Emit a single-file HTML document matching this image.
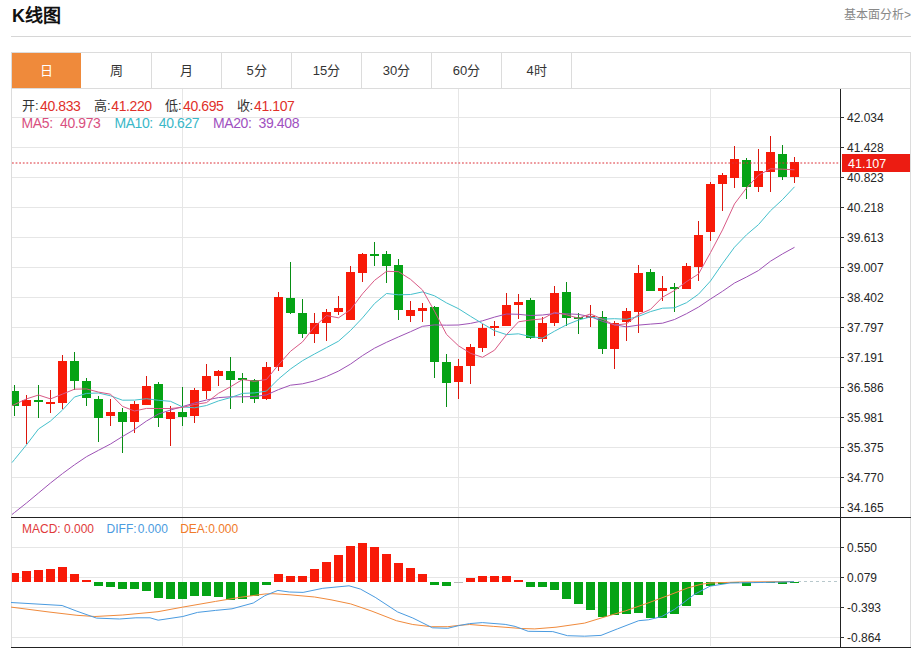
<!DOCTYPE html>
<html lang="zh-CN"><head><meta charset="utf-8">
<style>
*{margin:0;padding:0;box-sizing:border-box}
html,body{width:915px;height:648px;background:#fff;overflow:hidden;font-family:"Liberation Sans",sans-serif;color:#333}
.abs{position:absolute;white-space:nowrap}
#title{left:12px;top:5px;font-size:18px;font-weight:bold;color:#111;line-height:22px}
#more{right:4px;top:6px;font-size:12px;color:#888;line-height:18px}
#hline{left:11px;top:36px;width:900px;height:1px;background:#d6d6d6}
#tabs{left:11px;top:52px;width:900px;height:37px;border:1px solid #dcdcdc;border-bottom:1px solid #dcdcdc}
.tab{position:absolute;top:0;height:35px;width:70px;border-right:1px solid #dcdcdc;text-align:center;line-height:35px;font-size:13px;color:#333}
.tab.on{background:#ef8a3b;color:#fff;border-right:none;width:69px}
#info1{left:22px;top:97.5px;font-size:13px;line-height:16px}
#info2{left:22px;top:115px;font-size:13px;line-height:16px}
.r{color:#e0302a}
svg{position:absolute;left:0;top:0}
svg text{font-family:"Liberation Sans",sans-serif;font-size:12px;fill:#262626}
.t13{font-size:13px;line-height:16px;color:#333}
.v14{font-size:14px;line-height:16px;letter-spacing:-0.4px}
.m12{font-size:12px;line-height:16px;word-spacing:0}
</style></head><body>
<div class="abs" id="title">K线图</div>
<div class="abs" id="more">基本面分析&gt;</div>
<div class="abs" id="hline"></div>
<div class="abs" id="tabs">
<div class="tab on" style="left:0">日</div>
<div class="tab" style="left:70px">周</div>
<div class="tab" style="left:140px">月</div>
<div class="tab" style="left:210px">5分</div>
<div class="tab" style="left:280px">15分</div>
<div class="tab" style="left:350px">30分</div>
<div class="tab" style="left:420px">60分</div>
<div class="tab" style="left:490px">4时</div>
</div>
<svg width="915" height="648" viewBox="0 0 915 648" shape-rendering="crispEdges">
<rect x="11" y="88" width="1" height="559" fill="#dcdcdc"/>
<rect x="910" y="88" width="1" height="559" fill="#dcdcdc"/>
<g shape-rendering="crispEdges">
<line x1="12" y1="117.5" x2="840" y2="117.5" stroke="#e6e6e6" stroke-width="1"/>
<line x1="12" y1="147.5" x2="840" y2="147.5" stroke="#e6e6e6" stroke-width="1"/>
<line x1="12" y1="177.5" x2="840" y2="177.5" stroke="#e6e6e6" stroke-width="1"/>
<line x1="12" y1="207.5" x2="840" y2="207.5" stroke="#e6e6e6" stroke-width="1"/>
<line x1="12" y1="237.5" x2="840" y2="237.5" stroke="#e6e6e6" stroke-width="1"/>
<line x1="12" y1="267.5" x2="840" y2="267.5" stroke="#e6e6e6" stroke-width="1"/>
<line x1="12" y1="297.5" x2="840" y2="297.5" stroke="#e6e6e6" stroke-width="1"/>
<line x1="12" y1="327.5" x2="840" y2="327.5" stroke="#e6e6e6" stroke-width="1"/>
<line x1="12" y1="357.5" x2="840" y2="357.5" stroke="#e6e6e6" stroke-width="1"/>
<line x1="12" y1="387.5" x2="840" y2="387.5" stroke="#e6e6e6" stroke-width="1"/>
<line x1="12" y1="417.5" x2="840" y2="417.5" stroke="#e6e6e6" stroke-width="1"/>
<line x1="12" y1="447.5" x2="840" y2="447.5" stroke="#e6e6e6" stroke-width="1"/>
<line x1="12" y1="477.5" x2="840" y2="477.5" stroke="#e6e6e6" stroke-width="1"/>
<line x1="12" y1="507.5" x2="840" y2="507.5" stroke="#e6e6e6" stroke-width="1"/>
<line x1="182.5" y1="89" x2="182.5" y2="646" stroke="#e6e6e6" stroke-width="1"/>
<line x1="458.5" y1="89" x2="458.5" y2="646" stroke="#e6e6e6" stroke-width="1"/>
<line x1="710.5" y1="89" x2="710.5" y2="646" stroke="#e6e6e6" stroke-width="1"/>
<line x1="12" y1="547.5" x2="840" y2="547.5" stroke="#e6e6e6" stroke-width="1"/>
<line x1="12" y1="577.5" x2="840" y2="577.5" stroke="#e6e6e6" stroke-width="1"/>
<line x1="12" y1="607.5" x2="840" y2="607.5" stroke="#e6e6e6" stroke-width="1"/>
<line x1="12" y1="637.5" x2="840" y2="637.5" stroke="#e6e6e6" stroke-width="1"/>
<rect x="14.0" y="385" width="1" height="31" fill="#078d14"/>
<rect x="12.0" y="391" width="7.0" height="15" fill="#05a315"/>
<rect x="26.0" y="395" width="1" height="49" fill="#dc160c"/>
<rect x="22.0" y="400" width="9.0" height="6" fill="#f81a08"/>
<rect x="38.0" y="385" width="1" height="33" fill="#078d14"/>
<rect x="34.0" y="400" width="9.0" height="2" fill="#05a315"/>
<rect x="50.0" y="390" width="1" height="23" fill="#dc160c"/>
<rect x="46.0" y="402" width="9.0" height="2" fill="#f81a08"/>
<rect x="62.0" y="355" width="1" height="54" fill="#dc160c"/>
<rect x="58.0" y="361" width="9.0" height="42" fill="#f81a08"/>
<rect x="74.0" y="352" width="1" height="38" fill="#078d14"/>
<rect x="70.0" y="361" width="9.0" height="20" fill="#05a315"/>
<rect x="86.0" y="378" width="1" height="28" fill="#078d14"/>
<rect x="82.0" y="381" width="9.0" height="17" fill="#05a315"/>
<rect x="98.0" y="396" width="1" height="46" fill="#078d14"/>
<rect x="94.0" y="399" width="9.0" height="19" fill="#05a315"/>
<rect x="110.0" y="399" width="1" height="27" fill="#dc160c"/>
<rect x="106.0" y="412" width="9.0" height="4" fill="#f81a08"/>
<rect x="122.0" y="408" width="1" height="45" fill="#078d14"/>
<rect x="118.0" y="412" width="9.0" height="10" fill="#05a315"/>
<rect x="134.0" y="401" width="1" height="32" fill="#dc160c"/>
<rect x="130.0" y="404" width="9.0" height="18" fill="#f81a08"/>
<rect x="146.0" y="376" width="1" height="29" fill="#dc160c"/>
<rect x="142.0" y="386" width="9.0" height="19" fill="#f81a08"/>
<rect x="158.0" y="382" width="1" height="45" fill="#078d14"/>
<rect x="154.0" y="384" width="9.0" height="34" fill="#05a315"/>
<rect x="170.0" y="406" width="1" height="40" fill="#dc160c"/>
<rect x="166.0" y="412" width="9.0" height="7" fill="#f81a08"/>
<rect x="182.0" y="387" width="1" height="39" fill="#078d14"/>
<rect x="178.0" y="412" width="9.0" height="5" fill="#05a315"/>
<rect x="194.0" y="388" width="1" height="35" fill="#dc160c"/>
<rect x="190.0" y="390" width="9.0" height="26" fill="#f81a08"/>
<rect x="206.0" y="364" width="1" height="35" fill="#dc160c"/>
<rect x="202.0" y="376" width="9.0" height="15" fill="#f81a08"/>
<rect x="218.0" y="370" width="1" height="16" fill="#dc160c"/>
<rect x="214.0" y="371" width="9.0" height="5" fill="#f81a08"/>
<rect x="230.0" y="357" width="1" height="52" fill="#078d14"/>
<rect x="226.0" y="371" width="9.0" height="9" fill="#05a315"/>
<rect x="242.0" y="373" width="1" height="30" fill="#078d14"/>
<rect x="238.0" y="378" width="9.0" height="2" fill="#05a315"/>
<rect x="254.0" y="379" width="1" height="24" fill="#078d14"/>
<rect x="250.0" y="380" width="9.0" height="19" fill="#05a315"/>
<rect x="266.0" y="362" width="1" height="38" fill="#dc160c"/>
<rect x="262.0" y="367" width="9.0" height="32" fill="#f81a08"/>
<rect x="278.0" y="292" width="1" height="79" fill="#dc160c"/>
<rect x="274.0" y="297" width="9.0" height="70" fill="#f81a08"/>
<rect x="290.0" y="262" width="1" height="52" fill="#078d14"/>
<rect x="286.0" y="298" width="9.0" height="15" fill="#05a315"/>
<rect x="302.0" y="299" width="1" height="39" fill="#078d14"/>
<rect x="298.0" y="313" width="9.0" height="21" fill="#05a315"/>
<rect x="314.0" y="313" width="1" height="30" fill="#dc160c"/>
<rect x="310.0" y="323" width="9.0" height="11" fill="#f81a08"/>
<rect x="326.0" y="309" width="1" height="32" fill="#dc160c"/>
<rect x="322.0" y="312" width="9.0" height="11" fill="#f81a08"/>
<rect x="338.0" y="296" width="1" height="19" fill="#dc160c"/>
<rect x="334.0" y="308" width="9.0" height="4" fill="#f81a08"/>
<rect x="350.0" y="266" width="1" height="54" fill="#dc160c"/>
<rect x="346.0" y="272" width="9.0" height="48" fill="#f81a08"/>
<rect x="362.0" y="253" width="1" height="29" fill="#dc160c"/>
<rect x="358.0" y="254" width="9.0" height="19" fill="#f81a08"/>
<rect x="374.0" y="242" width="1" height="24" fill="#078d14"/>
<rect x="370.0" y="254" width="9.0" height="2" fill="#05a315"/>
<rect x="386.0" y="251" width="1" height="32" fill="#078d14"/>
<rect x="382.0" y="254" width="9.0" height="12" fill="#05a315"/>
<rect x="398.0" y="259" width="1" height="61" fill="#078d14"/>
<rect x="394.0" y="265" width="9.0" height="45" fill="#05a315"/>
<rect x="410.0" y="301" width="1" height="21" fill="#dc160c"/>
<rect x="406.0" y="310" width="9.0" height="6" fill="#f81a08"/>
<rect x="422.0" y="303" width="1" height="19" fill="#dc160c"/>
<rect x="418.0" y="308" width="9.0" height="3" fill="#f81a08"/>
<rect x="434.0" y="306" width="1" height="72" fill="#078d14"/>
<rect x="430.0" y="307" width="9.0" height="55" fill="#05a315"/>
<rect x="446.0" y="354" width="1" height="53" fill="#078d14"/>
<rect x="442.0" y="362" width="9.0" height="21" fill="#05a315"/>
<rect x="458.0" y="359" width="1" height="40" fill="#dc160c"/>
<rect x="454.0" y="366" width="9.0" height="16" fill="#f81a08"/>
<rect x="470.0" y="344" width="1" height="40" fill="#dc160c"/>
<rect x="466.0" y="347" width="9.0" height="19" fill="#f81a08"/>
<rect x="482.0" y="324" width="1" height="28" fill="#dc160c"/>
<rect x="478.0" y="328" width="9.0" height="20" fill="#f81a08"/>
<rect x="494.0" y="321" width="1" height="15" fill="#dc160c"/>
<rect x="490.0" y="326" width="9.0" height="2" fill="#f81a08"/>
<rect x="506.0" y="293" width="1" height="33" fill="#dc160c"/>
<rect x="502.0" y="305" width="9.0" height="21" fill="#f81a08"/>
<rect x="518.0" y="294" width="1" height="25" fill="#dc160c"/>
<rect x="514.0" y="302" width="9.0" height="3" fill="#f81a08"/>
<rect x="530.0" y="298" width="1" height="41" fill="#078d14"/>
<rect x="526.0" y="300" width="9.0" height="38" fill="#05a315"/>
<rect x="542.0" y="317" width="1" height="25" fill="#dc160c"/>
<rect x="538.0" y="323" width="9.0" height="16" fill="#f81a08"/>
<rect x="554.0" y="286" width="1" height="40" fill="#dc160c"/>
<rect x="550.0" y="293" width="9.0" height="30" fill="#f81a08"/>
<rect x="566.0" y="282" width="1" height="44" fill="#078d14"/>
<rect x="562.0" y="292" width="9.0" height="26" fill="#05a315"/>
<rect x="578.0" y="313" width="1" height="21" fill="#078d14"/>
<rect x="574.0" y="317" width="9.0" height="2" fill="#05a315"/>
<rect x="590.0" y="305" width="1" height="22" fill="#dc160c"/>
<rect x="586.0" y="316" width="9.0" height="2" fill="#f81a08"/>
<rect x="602.0" y="311" width="1" height="43" fill="#078d14"/>
<rect x="598.0" y="317" width="9.0" height="32" fill="#05a315"/>
<rect x="614.0" y="321" width="1" height="48" fill="#dc160c"/>
<rect x="610.0" y="323" width="9.0" height="26" fill="#f81a08"/>
<rect x="626.0" y="308" width="1" height="33" fill="#dc160c"/>
<rect x="622.0" y="311" width="9.0" height="11" fill="#f81a08"/>
<rect x="638.0" y="265" width="1" height="68" fill="#dc160c"/>
<rect x="634.0" y="273" width="9.0" height="39" fill="#f81a08"/>
<rect x="650.0" y="269" width="1" height="22" fill="#078d14"/>
<rect x="646.0" y="272" width="9.0" height="19" fill="#05a315"/>
<rect x="662.0" y="276" width="1" height="25" fill="#dc160c"/>
<rect x="658.0" y="288" width="9.0" height="3" fill="#f81a08"/>
<rect x="674.0" y="283" width="1" height="29" fill="#078d14"/>
<rect x="670.0" y="287" width="9.0" height="2" fill="#05a315"/>
<rect x="686.0" y="263" width="1" height="26" fill="#dc160c"/>
<rect x="682.0" y="266" width="9.0" height="23" fill="#f81a08"/>
<rect x="698.0" y="221" width="1" height="60" fill="#dc160c"/>
<rect x="694.0" y="235" width="9.0" height="32" fill="#f81a08"/>
<rect x="710.0" y="182" width="1" height="59" fill="#dc160c"/>
<rect x="706.0" y="184" width="9.0" height="48" fill="#f81a08"/>
<rect x="722.0" y="173" width="1" height="38" fill="#dc160c"/>
<rect x="718.0" y="175" width="9.0" height="9" fill="#f81a08"/>
<rect x="734.0" y="146" width="1" height="42" fill="#dc160c"/>
<rect x="730.0" y="159" width="9.0" height="19" fill="#f81a08"/>
<rect x="746.0" y="158" width="1" height="41" fill="#078d14"/>
<rect x="742.0" y="160" width="9.0" height="27" fill="#05a315"/>
<rect x="758.0" y="149" width="1" height="43" fill="#dc160c"/>
<rect x="754.0" y="171" width="9.0" height="16" fill="#f81a08"/>
<rect x="770.0" y="136" width="1" height="56" fill="#dc160c"/>
<rect x="766.0" y="152" width="9.0" height="20" fill="#f81a08"/>
<rect x="782.0" y="145" width="1" height="35" fill="#078d14"/>
<rect x="778.0" y="154" width="9.0" height="23" fill="#05a315"/>
<rect x="794.0" y="157" width="1" height="26" fill="#dc160c"/>
<rect x="790.0" y="162" width="9.0" height="15" fill="#f81a08"/>
<polyline points="12.0,514.5 14.5,512.5 26.5,503.0 38.5,493.0 50.5,483.0 62.5,473.6 74.5,464.8 86.5,456.7 98.5,450.3 110.5,444.0 122.5,436.5 134.5,429.5 146.5,421.0 158.5,414.0 170.5,410.0 182.5,406.6 194.5,403.0 206.5,400.0 218.5,397.6 230.5,396.8 242.5,396.8 254.5,396.5 266.5,394.9 278.5,389.6 290.5,385.2 302.5,383.8 314.5,380.9 326.5,376.5 338.5,371.1 350.5,364.1 362.5,355.6 374.5,348.2 386.5,342.3 398.5,336.9 410.5,331.7 422.5,326.3 434.5,324.9 446.5,325.2 458.5,325.0 470.5,323.4 482.5,320.8 494.5,317.1 506.5,314.0 518.5,314.3 530.5,315.5 542.5,315.0 554.5,313.5 566.5,313.8 578.5,314.4 590.5,316.6 602.5,321.4 614.5,324.7 626.5,326.9 638.5,325.1 650.5,324.1 662.5,323.2 674.5,319.5 686.5,313.7 698.5,307.1 710.5,299.0 722.5,291.3 734.5,283.0 746.5,277.0 758.5,270.5 770.5,261.2 782.5,253.9 794.5,247.3" fill="none" shape-rendering="geometricPrecision" stroke-linejoin="round" stroke="#9d52b5" stroke-width="1"/>
<polyline points="12.0,462.6 14.5,459.5 26.5,444.8 38.5,429.0 50.5,421.0 62.5,410.0 74.5,397.0 86.5,393.4 98.5,393.0 110.5,395.8 122.5,400.2 134.5,400.1 146.5,398.7 158.5,400.3 170.5,401.3 182.5,406.9 194.5,407.8 206.5,405.5 218.5,400.9 230.5,397.6 242.5,393.4 254.5,392.9 266.5,391.1 278.5,379.0 290.5,369.0 302.5,360.7 314.5,354.0 326.5,347.6 338.5,341.2 350.5,330.5 362.5,317.9 374.5,303.6 386.5,293.5 398.5,294.8 410.5,294.5 422.5,291.9 434.5,295.8 446.5,302.9 458.5,308.7 470.5,316.3 482.5,323.6 494.5,330.7 506.5,334.6 518.5,333.8 530.5,336.6 542.5,338.1 554.5,331.2 566.5,324.8 578.5,320.0 590.5,316.9 602.5,319.1 614.5,318.7 626.5,319.3 638.5,316.4 650.5,311.6 662.5,308.2 674.5,307.8 686.5,302.7 698.5,294.2 710.5,281.0 722.5,263.6 734.5,247.2 746.5,234.8 758.5,224.6 770.5,210.7 782.5,199.6 794.5,186.8" fill="none" shape-rendering="geometricPrecision" stroke-linejoin="round" stroke="#45c0cc" stroke-width="1"/>
<polyline points="12.0,405.7 14.5,404.5 26.5,398.9 38.5,395.0 50.5,398.9 62.5,394.1 74.5,389.2 86.5,388.9 98.5,392.1 110.5,394.2 122.5,406.4 134.5,411.0 146.5,408.4 158.5,408.5 170.5,408.5 182.5,407.4 194.5,404.5 206.5,402.6 218.5,393.3 230.5,386.8 242.5,379.5 254.5,381.3 266.5,379.5 278.5,364.7 290.5,351.3 302.5,341.9 314.5,326.8 326.5,315.6 338.5,317.8 350.5,309.7 362.5,293.8 374.5,280.4 386.5,271.3 398.5,271.7 410.5,279.3 422.5,290.0 434.5,311.2 446.5,334.4 458.5,345.8 470.5,353.3 482.5,357.3 494.5,350.2 506.5,334.7 518.5,321.8 530.5,320.0 542.5,318.9 554.5,312.3 566.5,314.8 578.5,318.2 590.5,313.9 602.5,319.2 614.5,325.1 626.5,323.8 638.5,314.5 650.5,309.4 662.5,297.2 674.5,290.5 686.5,281.6 698.5,274.0 710.5,252.6 722.5,229.9 734.5,203.9 746.5,188.0 758.5,175.2 770.5,168.8 782.5,169.2 794.5,169.8" fill="none" shape-rendering="geometricPrecision" stroke-linejoin="round" stroke="#d95a86" stroke-width="1"/>
<line x1="12" y1="163" x2="840" y2="163" stroke="#dc3038" stroke-width="1" stroke-dasharray="1.8,1.8" shape-rendering="geometricPrecision"/>
<rect x="12.0" y="573" width="7.0" height="9" fill="#f81a08"/>
<rect x="22.0" y="571" width="9.0" height="11" fill="#f81a08"/>
<rect x="34.0" y="570" width="9.0" height="12" fill="#f81a08"/>
<rect x="46.0" y="569" width="9.0" height="13" fill="#f81a08"/>
<rect x="58.0" y="567" width="9.0" height="15" fill="#f81a08"/>
<rect x="70.0" y="574" width="9.0" height="8" fill="#f81a08"/>
<rect x="82.0" y="580" width="9.0" height="2" fill="#f81a08"/>
<rect x="94.0" y="582" width="9.0" height="4" fill="#05a315"/>
<rect x="106.0" y="582" width="9.0" height="5" fill="#05a315"/>
<rect x="118.0" y="582" width="9.0" height="7" fill="#05a315"/>
<rect x="130.0" y="582" width="9.0" height="7" fill="#05a315"/>
<rect x="142.0" y="582" width="9.0" height="9" fill="#05a315"/>
<rect x="154.0" y="582" width="9.0" height="16" fill="#05a315"/>
<rect x="166.0" y="582" width="9.0" height="17" fill="#05a315"/>
<rect x="178.0" y="582" width="9.0" height="17" fill="#05a315"/>
<rect x="190.0" y="582" width="9.0" height="14" fill="#05a315"/>
<rect x="202.0" y="582" width="9.0" height="14" fill="#05a315"/>
<rect x="214.0" y="582" width="9.0" height="15" fill="#05a315"/>
<rect x="226.0" y="582" width="9.0" height="18" fill="#05a315"/>
<rect x="238.0" y="582" width="9.0" height="17" fill="#05a315"/>
<rect x="250.0" y="582" width="9.0" height="14" fill="#05a315"/>
<rect x="262.0" y="582" width="9.0" height="3" fill="#05a315"/>
<rect x="274.0" y="574" width="9.0" height="8" fill="#f81a08"/>
<rect x="286.0" y="576" width="9.0" height="6" fill="#f81a08"/>
<rect x="298.0" y="576" width="9.0" height="6" fill="#f81a08"/>
<rect x="310.0" y="569" width="9.0" height="13" fill="#f81a08"/>
<rect x="322.0" y="562" width="9.0" height="20" fill="#f81a08"/>
<rect x="334.0" y="555" width="9.0" height="27" fill="#f81a08"/>
<rect x="346.0" y="546" width="9.0" height="36" fill="#f81a08"/>
<rect x="358.0" y="543" width="9.0" height="39" fill="#f81a08"/>
<rect x="370.0" y="547" width="9.0" height="35" fill="#f81a08"/>
<rect x="382.0" y="554" width="9.0" height="28" fill="#f81a08"/>
<rect x="394.0" y="563" width="9.0" height="19" fill="#f81a08"/>
<rect x="406.0" y="568" width="9.0" height="14" fill="#f81a08"/>
<rect x="418.0" y="574" width="9.0" height="8" fill="#f81a08"/>
<rect x="430.0" y="582" width="9.0" height="3" fill="#05a315"/>
<rect x="442.0" y="582" width="9.0" height="4" fill="#05a315"/>
<rect x="454.0" y="581.5" width="9.0" height="1" fill="#bbb"/>
<rect x="466.0" y="578" width="9.0" height="4" fill="#f81a08"/>
<rect x="478.0" y="576" width="9.0" height="6" fill="#f81a08"/>
<rect x="490.0" y="576" width="9.0" height="6" fill="#f81a08"/>
<rect x="502.0" y="576" width="9.0" height="6" fill="#f81a08"/>
<rect x="514.0" y="580" width="9.0" height="2" fill="#f81a08"/>
<rect x="526.0" y="582" width="9.0" height="5" fill="#05a315"/>
<rect x="538.0" y="582" width="9.0" height="5" fill="#05a315"/>
<rect x="550.0" y="582" width="9.0" height="8" fill="#05a315"/>
<rect x="562.0" y="582" width="9.0" height="17" fill="#05a315"/>
<rect x="574.0" y="582" width="9.0" height="22" fill="#05a315"/>
<rect x="586.0" y="582" width="9.0" height="28" fill="#05a315"/>
<rect x="598.0" y="582" width="9.0" height="35" fill="#05a315"/>
<rect x="610.0" y="582" width="9.0" height="33" fill="#05a315"/>
<rect x="622.0" y="582" width="9.0" height="32" fill="#05a315"/>
<rect x="634.0" y="582" width="9.0" height="31" fill="#05a315"/>
<rect x="646.0" y="582" width="9.0" height="36" fill="#05a315"/>
<rect x="658.0" y="582" width="9.0" height="36" fill="#05a315"/>
<rect x="670.0" y="582" width="9.0" height="32" fill="#05a315"/>
<rect x="682.0" y="582" width="9.0" height="24" fill="#05a315"/>
<rect x="694.0" y="582" width="9.0" height="13" fill="#05a315"/>
<rect x="706.0" y="582" width="9.0" height="4" fill="#05a315"/>
<rect x="718.0" y="582" width="9.0" height="2" fill="#05a315"/>
<rect x="730.0" y="582" width="9.0" height="1" fill="#05a315"/>
<rect x="742.0" y="582" width="9.0" height="4" fill="#05a315"/>
<rect x="754.0" y="582" width="9.0" height="1" fill="#05a315"/>
<rect x="766.0" y="582" width="9.0" height="1" fill="#05a315"/>
<rect x="778.0" y="582" width="9.0" height="2" fill="#05a315"/>
<rect x="790.0" y="582" width="9.0" height="1" fill="#05a315"/>
<polyline points="11.0,607.1 49.0,612.0 76.9,615.3 94.9,616.5 122.8,615.0 158.0,611.7 182.8,607.1 215.6,601.4 240.2,597.3 264.8,594.0 273.0,593.7 290.0,594.8 314.6,597.0 331.0,599.8 350.7,603.9 372.0,611.2 396.4,620.7 412.8,624.5 431.4,626.7 447.8,626.7 458.7,625.4 469.6,624.5 493.8,626.4 521.6,628.5 534.8,628.9 556.0,627.2 584.6,623.1 605.9,616.6 625.6,610.8 646.9,603.4 666.6,596.1 687.9,587.9 701.0,584.3 710.0,583.0 740.0,582.0 794.0,581.5" fill="none" shape-rendering="geometricPrecision" stroke-linejoin="round" stroke="#f08a3c" stroke-width="1"/>
<polyline points="11.0,602.5 62.1,605.5 76.9,611.2 96.5,618.1 119.5,619.0 135.9,617.8 150.0,617.8 158.2,620.2 182.8,616.5 197.5,612.4 215.6,610.4 232.0,608.8 253.3,603.0 264.8,595.7 277.9,590.4 289.3,592.0 303.1,592.4 322.8,588.3 349.0,585.8 360.5,589.1 375.2,597.3 397.5,611.9 412.8,618.0 432.5,627.8 447.8,628.3 458.7,625.6 469.6,623.6 482.3,622.6 505.2,624.4 515.1,626.4 528.2,631.3 552.8,631.6 567.5,635.7 584.6,636.2 601.0,635.4 617.4,628.9 638.7,620.7 648.5,619.8 661.6,616.6 674.8,609.2 694.4,594.4 710.0,586.2 730.0,583.0 760.0,582.5 794.0,581.7" fill="none" shape-rendering="geometricPrecision" stroke-linejoin="round" stroke="#4a9be0" stroke-width="1"/>
<line x1="798" y1="581.5" x2="840" y2="581.5" stroke="#b8c8cc" stroke-width="1" stroke-dasharray="3,3"/>
</g>
<rect x="840" y="89" width="1" height="558" fill="#222"/>
<rect x="11" y="517" width="900" height="1" fill="#222"/>
<rect x="11" y="647" width="900" height="1" fill="#222"/>
<line x1="840" y1="117.5" x2="844" y2="117.5" stroke="#333" stroke-width="1"/>
<text x="847" y="121.8">42.034</text>
<line x1="840" y1="147.5" x2="844" y2="147.5" stroke="#333" stroke-width="1"/>
<text x="847" y="151.8">41.428</text>
<line x1="840" y1="177.5" x2="844" y2="177.5" stroke="#333" stroke-width="1"/>
<text x="847" y="181.8">40.823</text>
<line x1="840" y1="207.5" x2="844" y2="207.5" stroke="#333" stroke-width="1"/>
<text x="847" y="211.8">40.218</text>
<line x1="840" y1="237.5" x2="844" y2="237.5" stroke="#333" stroke-width="1"/>
<text x="847" y="241.8">39.613</text>
<line x1="840" y1="267.5" x2="844" y2="267.5" stroke="#333" stroke-width="1"/>
<text x="847" y="271.8">39.007</text>
<line x1="840" y1="297.5" x2="844" y2="297.5" stroke="#333" stroke-width="1"/>
<text x="847" y="301.8">38.402</text>
<line x1="840" y1="327.5" x2="844" y2="327.5" stroke="#333" stroke-width="1"/>
<text x="847" y="331.8">37.797</text>
<line x1="840" y1="357.5" x2="844" y2="357.5" stroke="#333" stroke-width="1"/>
<text x="847" y="361.8">37.191</text>
<line x1="840" y1="387.5" x2="844" y2="387.5" stroke="#333" stroke-width="1"/>
<text x="847" y="391.8">36.586</text>
<line x1="840" y1="417.5" x2="844" y2="417.5" stroke="#333" stroke-width="1"/>
<text x="847" y="421.8">35.981</text>
<line x1="840" y1="447.5" x2="844" y2="447.5" stroke="#333" stroke-width="1"/>
<text x="847" y="451.8">35.375</text>
<line x1="840" y1="477.5" x2="844" y2="477.5" stroke="#333" stroke-width="1"/>
<text x="847" y="481.8">34.770</text>
<line x1="840" y1="507.5" x2="844" y2="507.5" stroke="#333" stroke-width="1"/>
<text x="847" y="511.8">34.165</text>
<line x1="840" y1="547.5" x2="844" y2="547.5" stroke="#333" stroke-width="1"/>
<text x="847" y="551.8">0.550</text>
<line x1="840" y1="577.5" x2="844" y2="577.5" stroke="#333" stroke-width="1"/>
<text x="847" y="581.8">0.079</text>
<line x1="840" y1="607.5" x2="844" y2="607.5" stroke="#333" stroke-width="1"/>
<text x="847" y="611.8">-0.393</text>
<line x1="840" y1="637.5" x2="844" y2="637.5" stroke="#333" stroke-width="1"/>
<text x="847" y="641.8">-0.864</text>
<rect x="842" y="154" width="68" height="18" fill="#ec1c12"/>
<text x="848" y="167.5" style="fill:#fff;font-size:12.5px">41.107</text>
</svg>
<div class="abs t13" style="left:22px;top:97.5px">开:</div>
<div class="abs v14 r" style="left:40px;top:97.5px">40.833</div>
<div class="abs t13" style="left:94px;top:97.5px">高:</div>
<div class="abs v14 r" style="left:111.3px;top:97.5px">41.220</div>
<div class="abs t13" style="left:165px;top:97.5px">低:</div>
<div class="abs v14 r" style="left:183px;top:97.5px">40.695</div>
<div class="abs t13" style="left:236.5px;top:97.5px">收:</div>
<div class="abs v14 r" style="left:254px;top:97.5px">41.107</div>
<div class="abs v14" style="left:21.6px;top:115px;color:#d9507f">MA5:</div>
<div class="abs v14" style="left:60px;top:115px;color:#d9507f">40.973</div>
<div class="abs v14" style="left:114.4px;top:115px;color:#3ab8c8">MA10:</div>
<div class="abs v14" style="left:158.8px;top:115px;color:#3ab8c8">40.627</div>
<div class="abs v14" style="left:213px;top:115px;color:#a050c0">MA20:</div>
<div class="abs v14" style="left:258.6px;top:115px;color:#a050c0">39.408</div>
<div class="abs m12" style="left:22px;top:521px;color:#e03a3a">MACD:</div>
<div class="abs m12" style="left:64px;top:521px;color:#e03a3a">0.000</div>
<div class="abs m12" style="left:106.6px;top:521px;color:#4a9be0">DIFF:</div>
<div class="abs m12" style="left:137.8px;top:521px;color:#4a9be0">0.000</div>
<div class="abs m12" style="left:180.2px;top:521px;color:#f07a2a">DEA:</div>
<div class="abs m12" style="left:208.2px;top:521px;color:#f07a2a">0.000</div>
</body></html>
